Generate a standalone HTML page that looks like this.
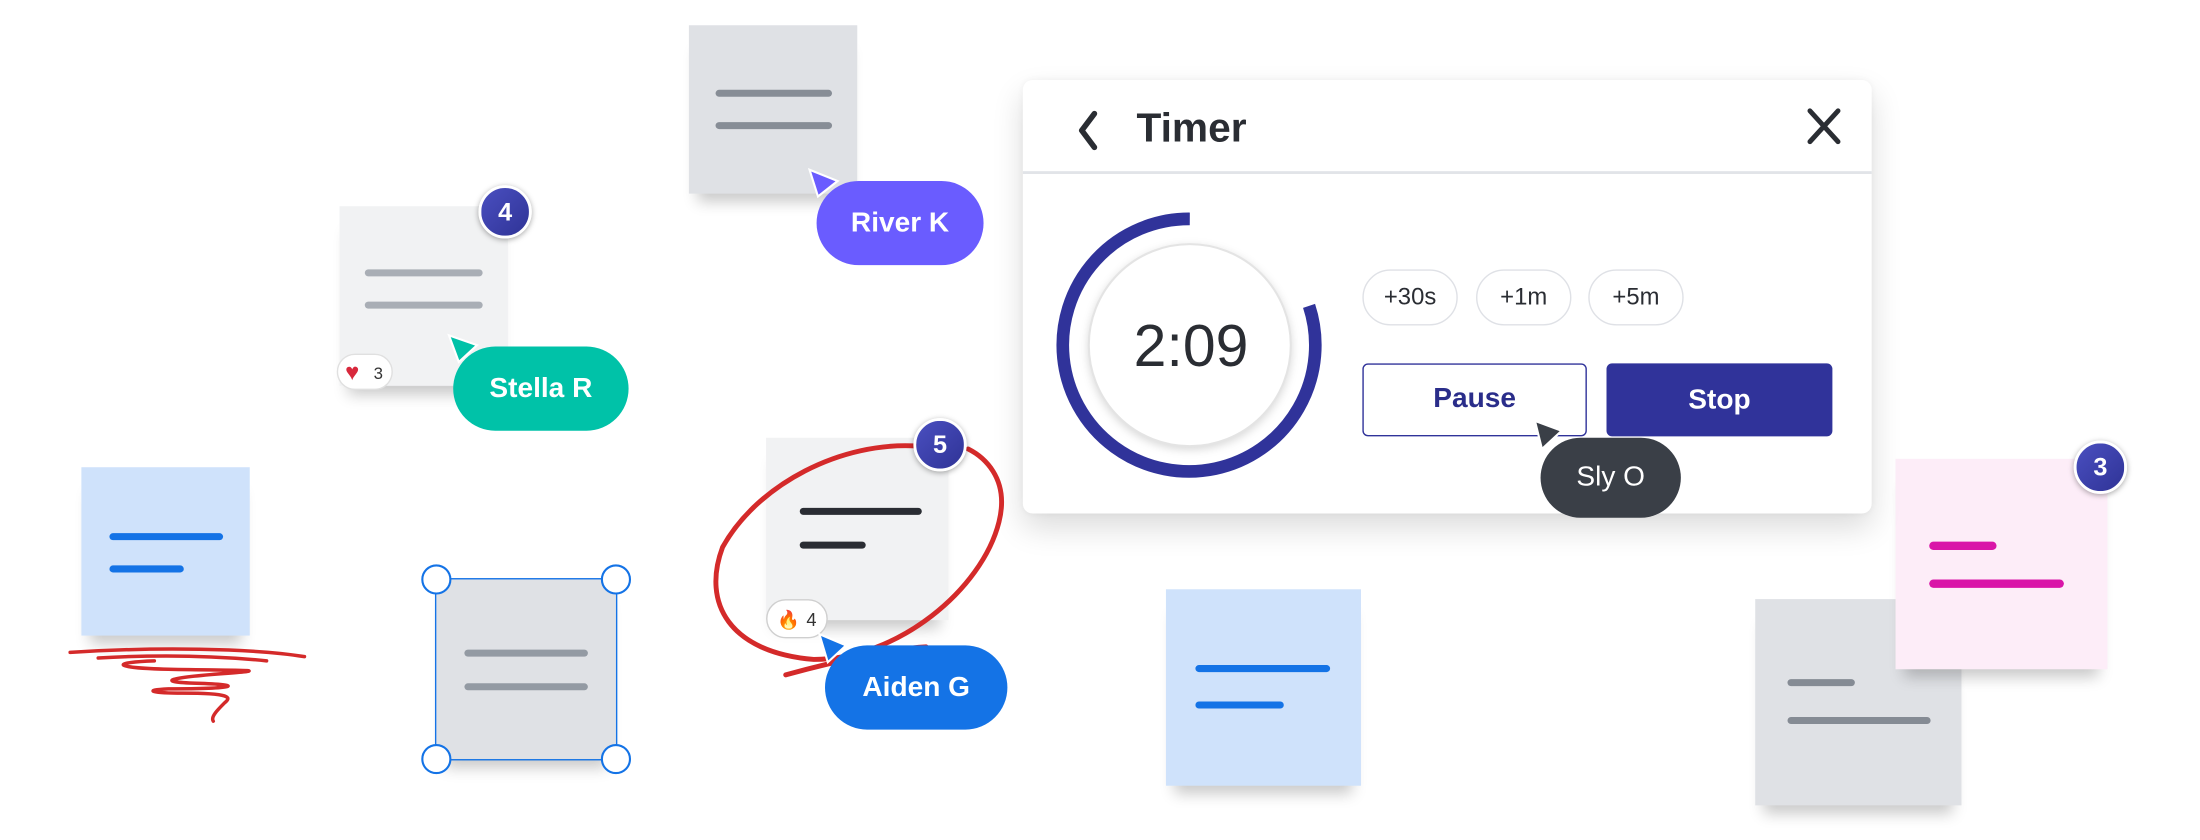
<!DOCTYPE html>
<html><head><meta charset="utf-8"><style>
html,body{margin:0;padding:0;background:#fff;overflow:hidden}
body{width:2200px;height:840px;position:relative}
#w{position:absolute;left:0;top:0;width:1568px;height:600px;transform:scale(1.40306);transform-origin:0 0;font-family:"Liberation Sans",sans-serif}
.a{position:absolute}
.note{position:absolute;box-shadow:0 12px 10px -6px rgba(0,0,0,.22)}
.ln{position:absolute;height:5px;border-radius:3px}
.badge{position:absolute;width:34px;height:34px;border-radius:50%;background:linear-gradient(135deg,#4a4fc0,#2f3396);border:2.5px solid #fff;box-shadow:0 1px 4px rgba(0,0,0,.35);color:#fff;font-weight:bold;font-size:18px;text-align:center;line-height:34px}
.pill{position:absolute;border-radius:30px;color:#fff;font-weight:bold;font-size:20px;text-align:center}
.chip{position:absolute;top:192px;height:38px;width:66px;border:1.5px solid #dfe1e6;border-radius:20px;font-size:17px;color:#2a2d33;text-align:center;line-height:38px}
</style></head><body><div id="w">

<div class="note" style="left:58px;top:333px;width:120px;height:120px;background:#cfe2fb"></div>
<div class="ln" style="left:78px;top:380px;width:81px;background:#1473e6"></div>
<div class="ln" style="left:78px;top:403px;width:53px;background:#1473e6"></div>

<div class="note" style="left:311px;top:413px;width:128px;height:128px;background:#dfe1e5;outline:1.5px solid #1473e6"></div>
<div class="ln" style="left:331px;top:463px;width:88px;background:#939aa3"></div>
<div class="ln" style="left:331px;top:487px;width:88px;background:#939aa3"></div>

<div class="note" style="left:242px;top:147px;width:120px;height:128px;background:#f1f2f3"></div>
<div class="ln" style="left:260px;top:192px;width:84px;background:#a9aeb5"></div>
<div class="ln" style="left:260px;top:215px;width:84px;background:#a9aeb5"></div>
<div class="badge" style="left:341px;top:132px">4</div>
<div class="a" style="left:240px;top:252px;width:40px;height:26px;border-radius:14px;background:#fff;border:1px solid #e0e0e0;font-size:12px;color:#333;line-height:26px;text-align:right;padding-right:6px;box-sizing:border-box"><span style="position:absolute;left:5px;top:0;color:#d8283c;font-size:17px">♥</span>3</div>

<div class="note" style="left:491px;top:18px;width:120px;height:120px;background:#dfe1e5"></div>
<div class="ln" style="left:510px;top:64px;width:83px;background:#878d96"></div>
<div class="ln" style="left:510px;top:87px;width:83px;background:#878d96"></div>

<div class="note" style="left:546px;top:312px;width:130px;height:130px;background:#f1f2f3"></div>
<div class="ln" style="left:570px;top:362px;width:87px;background:#2a2d33"></div>
<div class="ln" style="left:570px;top:386px;width:47px;background:#2a2d33"></div>
<div class="a" style="left:546px;top:427px;width:44px;height:28px;border-radius:15px;background:#fff;border:1px solid #cfcfcf;font-size:13px;color:#333;line-height:28px;text-align:right;padding-right:7px;box-sizing:border-box"><span style="position:absolute;left:7px;top:0;color:#f08a24">🔥</span>4</div>

<div class="note" style="left:831px;top:420px;width:139px;height:140px;background:#cfe2fb"></div>
<div class="ln" style="left:852px;top:474px;width:96px;background:#1473e6"></div>
<div class="ln" style="left:852px;top:500px;width:63px;background:#1473e6"></div>

<div class="note" style="left:1251px;top:427px;width:147px;height:147px;background:#dfe1e5"></div>
<div class="ln" style="left:1274px;top:484px;width:48px;background:#858b94"></div>
<div class="ln" style="left:1274px;top:511px;width:102px;background:#858b94"></div>
<div class="note" style="left:1351px;top:327px;width:151px;height:150px;background:#fdedf8"></div>
<div class="ln" style="left:1375px;top:386px;width:48px;height:6px;background:#d915a8"></div>
<div class="ln" style="left:1375px;top:413px;width:96px;height:6px;background:#d915a8"></div>
<div class="badge" style="left:1478px;top:314px">3</div>

<div class="a" style="left:729px;top:57px;width:605px;height:309px;background:#fff;border-radius:7px;box-shadow:0 10px 22px rgba(0,0,0,.14),0 0 6px rgba(0,0,0,.05)">
  <div class="a" style="left:0;top:65px;width:605px;height:1.5px;background:#e1e4e8"></div>
  <div class="a" style="left:81px;top:19px;font-size:29px;font-weight:bold;color:#2a2d33">Timer</div>
</div>
<svg class="a" style="left:0;top:0" width="1568" height="600">
  <path d="M780 81 L771 93 L780 105" fill="none" stroke="#2a2d33" stroke-width="4" stroke-linecap="round" stroke-linejoin="round"/>
  <path d="M1290 79 L1310 101 M1310 79 L1290 101" stroke="#2a2d33" stroke-width="3.5" stroke-linecap="round"/>
  <circle cx="848" cy="246" r="72" fill="#fff" stroke="#e4e4e4" stroke-width="1.5" style="filter:drop-shadow(0 2px 3px rgba(0,0,0,.15))"/>
  <path d="M848 156 A90 90 0 1 0 933 218" fill="none" stroke="#30339a" stroke-width="9"/>
  <path d="M50 465 C110 461 180 462 217 468 M70 469 C120 466 160 468 190 471 M110 471 C80 472 78 476 120 477 C165 478 200 477 160 480 C120 483 110 486 140 487 C175 488 170 491 120 491 C100 492 110 494 130 494 C165 494 165 497 160 501 C155 506 150 511 152 514" fill="none" stroke="#d42a2a" stroke-width="2.5" stroke-linecap="round"/>
  <path d="M655 318 C600 314 540 345 515 390 C500 430 520 465 580 470 C640 470 700 420 712 372 C720 340 700 325 690 320 M560 481 C600 470 640 462 660 461" fill="none" stroke="#d42a2a" stroke-width="3.5" stroke-linecap="round"/>
  <g fill="#fff" stroke="#1473e6" stroke-width="1.5">
    <circle cx="311" cy="413" r="10"/><circle cx="439" cy="413" r="10"/>
    <circle cx="311" cy="541" r="10"/><circle cx="439" cy="541" r="10"/>
  </g>
</svg>
<div class="a" style="left:808px;top:223px;font-size:42px;color:#2a2d33">2:09</div>
<div class="chip" style="left:971px">+30s</div>
<div class="chip" style="left:1052px">+1m</div>
<div class="chip" style="left:1132px">+5m</div>
<div class="a" style="left:971px;top:259px;width:160px;height:52px;box-sizing:border-box;border:1.5px solid #30339a;border-radius:4px;color:#2a2d8a;font-weight:bold;font-size:20px;text-align:center;line-height:49px">Pause</div>
<div class="a" style="left:1145px;top:259px;width:161px;height:52px;background:#30339a;border-radius:4px;color:#fff;font-weight:bold;font-size:20px;text-align:center;line-height:52px">Stop</div>

<svg class="a" style="left:0;top:0" width="1568" height="600">
  <path d="M320 239 L340 246 L327 258 Z" fill="#00c2a8" stroke="#fff" stroke-width="1.5"/>
  <path d="M577 121 L597 129 L583 140 Z" fill="#6a5cff" stroke="#fff" stroke-width="1.5"/>
  <path d="M584 452 L603 460 L590 472 Z" fill="#1473e6" stroke="#fff" stroke-width="1.5"/>
  <path d="M1094 300 L1113 307 L1099 320 Z" fill="#3a3f47" stroke="#fff" stroke-width="1.5"/>
</svg>
<div class="pill" style="left:323px;top:247px;width:125px;height:60px;line-height:60px;background:#00c2a8">Stella R</div>
<div class="pill" style="left:582px;top:129px;width:119px;height:60px;line-height:60px;background:#6a5cff">River K</div>
<div class="pill" style="left:588px;top:460px;width:130px;height:60px;line-height:60px;background:#1473e6">Aiden G</div>
<div class="pill" style="left:1098px;top:312px;width:100px;height:57px;line-height:57px;background:#3a3f47;font-weight:normal">Sly O</div>
<div class="badge" style="left:651px;top:298px">5</div>

</div></body></html>
